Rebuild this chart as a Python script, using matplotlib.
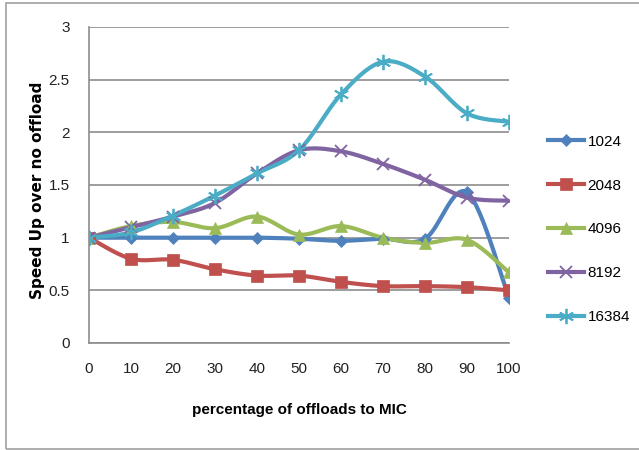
import numpy as np
import matplotlib.pyplot as plt
from matplotlib.patches import Rectangle

# offload percentage on x, speedup for each problem size
percent = [0, 10, 20, 30, 40, 50, 60, 70, 80, 90, 100]
sizes = ['1024', '2048', '4096', '8192', '16384']
speed_1024 = [1.0, 1.0, 1.0, 1.0, 1.0, 0.99, 0.97, 0.99, 0.99, 1.43, 0.43]
speed_2048 = [1.0, 0.80, 0.79, 0.70, 0.64, 0.64, 0.58, 0.54, 0.54, 0.53, 0.50]
speed_4096 = [1.0, 1.11, 1.15, 1.09, 1.20, 1.03, 1.11, 1.0, 0.95, 0.98, 0.67]
speed_8192 = [1.0, 1.10, 1.20, 1.33, 1.61, 1.83, 1.82, 1.70, 1.55, 1.38, 1.35]
speed_16384 = [1.0, 1.05, 1.21, 1.40, 1.61, 1.83, 2.36, 2.67, 2.53, 2.18, 2.10]

colors = ['#4f81bd', '#c0504d', '#9bbb59', '#8064a2', '#4bacc6']
markers = ['D', 's', '^', 'x', (6, 2, 0)]
msizes = [6, 9, 9, 9, 11]


def smooth(x, y, n=20):
    # bezier through points, control points from neighbours (catmull-rom style)
    x = np.asarray(x, float)
    y = np.asarray(y, float)
    pts = np.column_stack([x, y])
    out = []
    for i in range(len(pts) - 1):
        p0 = pts[max(i - 1, 0)]
        p1 = pts[i]
        p2 = pts[i + 1]
        p3 = pts[min(i + 2, len(pts) - 1)]
        c1 = p1 + (p2 - p0) / 6
        c2 = p2 - (p3 - p1) / 6
        t = np.linspace(0, 1, n)[:, None]
        seg = ((1 - t) ** 3) * p1 + 3 * ((1 - t) ** 2) * t * c1 + 3 * (1 - t) * t ** 2 * c2 + t ** 3 * p2
        out.append(seg if i == 0 else seg[1:])
    seg = np.vstack(out)
    return seg[:, 0], seg[:, 1]


plt.rcParams['font.family'] = ['Liberation Sans', 'DejaVu Sans']

fig = plt.figure(figsize=(6.39, 4.5), dpi=100)
ax = fig.add_axes([89 / 639, 1 - 343 / 450, (509 - 89) / 639, (343 - 27) / 450])

# light border around the chart
fig.patches.append(Rectangle((6 / 639, 1 / 450), 1.0, 446 / 450, transform=fig.transFigure,
                             fill=False, edgecolor='#a0a0a0', linewidth=1.2))

series = [speed_1024, speed_2048, speed_4096, speed_8192, speed_16384]
handles = []
for vals, name, c, m, ms in zip(series, sizes, colors, markers, msizes):
    mew = 1.3 if m in ['x', (6, 2, 0)] else 0.5
    sx, sy = smooth(percent, vals)
    ax.plot(sx, sy, color=c, linewidth=3, solid_capstyle='round', zorder=3)
    ax.plot(percent, vals, linestyle='none', marker=m, color=c, markersize=ms,
            markeredgewidth=mew, zorder=4)
    h, = ax.plot([], [], color=c, linewidth=3, marker=m, markersize=ms, markeredgewidth=mew)
    handles.append(h)

ax.set_xlim(0, 100)
ax.set_ylim(0, 3)
ax.set_xticks(percent)
ax.set_yticks([0, 0.5, 1, 1.5, 2, 2.5, 3])
ax.set_yticklabels(['0', '0.5', '1', '1.5', '2', '2.5', '3'])
ax.tick_params(length=0, labelsize=11, colors='#222222')
ax.tick_params(axis='x', pad=14)
ax.tick_params(axis='y', pad=14)
ax.grid(axis='y', color='#8c8c8c', linewidth=1.2)
ax.set_axisbelow(True)
for side in ['top', 'right']:
    ax.spines[side].set_visible(False)
ax.spines['left'].set_color('#8c8c8c')
ax.spines['bottom'].set_color('#8c8c8c')
ax.spines['left'].set_linewidth(1.2)
ax.spines['bottom'].set_linewidth(1.2)

fig.text(299 / 639, 1 - 410 / 450, 'percentage of offloads to MIC', ha='center', va='center',
         fontsize=11, fontweight='bold')
fig.text(38 / 639, 1 - 190 / 450, 'Speed Up over no offload', ha='center', va='center',
         rotation=90, fontsize=11, fontweight='bold', family='DejaVu Sans')

fig.legend(handles, sizes, loc='upper left', bbox_to_anchor=(534 / 639, 1 - 121 / 450),
           frameon=False, fontsize=11, handlelength=2.4, handletextpad=0.2,
           labelspacing=1.95)

fig.savefig('out.png', dpi=100)
